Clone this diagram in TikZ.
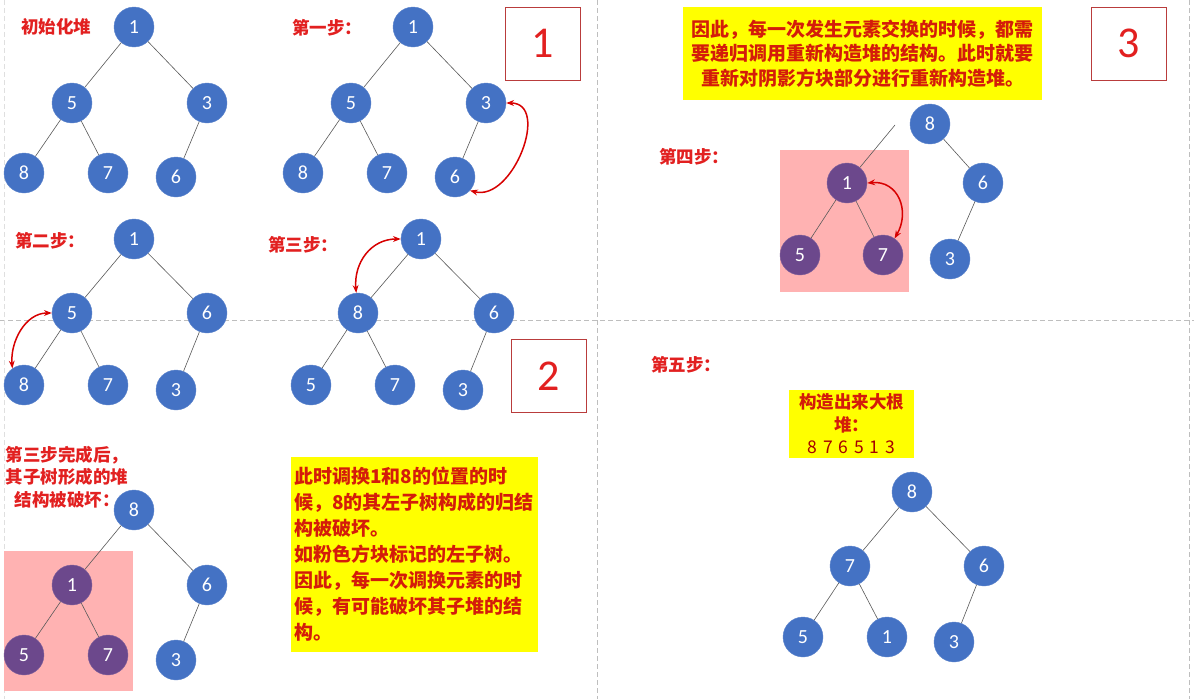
\documentclass[tikz,border=0pt]{standalone}
\usepackage{fontspec}
\setmainfont{Carlito}
\newfontfamily\cjk{Noto Sans CJK SC}
\usepackage{xcolor}
\usepackage{tikz}
\usetikzlibrary{arrows.meta, positioning}

\definecolor{heapblue}{RGB}{68,114,196}
\definecolor{brokenpurple}{RGB}{108,72,140}
\definecolor{shadepink}{RGB}{255,178,178}
\definecolor{labelred}{RGB}{226,32,32}
\definecolor{notered}{RGB}{212,28,10}
\definecolor{noteyellow}{RGB}{255,255,0}
\definecolor{boxred}{RGB}{185,60,60}
\definecolor{swapred}{RGB}{215,0,0}
\definecolor{sepgray}{RGB}{190,190,190}

\begin{document}
\begin{tikzpicture}[
    x=1pt, y=-1pt,
    heapnode/.style={circle, fill=heapblue, draw=heapblue!85!white, minimum size=40pt, inner sep=0pt, text=white, font=\fontsize{20}{20}\selectfont},
    brokennode/.style={heapnode, fill=brokenpurple, draw=brokenpurple!85!white},
    treeline/.style={draw=black!65, line width=0.6pt},
    swaparrow/.style={{Stealth[scale=0.8]}-{Stealth[scale=0.8]}, line width=1.5pt, swapred},
    steplabel/.style={anchor=west, inner sep=0pt, text=labelred, font=\cjk\bfseries\fontsize{17.5}{17.5}\selectfont},
    notebox/.style={fill=noteyellow, text=notered, inner sep=3pt, font=\cjk\bfseries\fontsize{19}{26}\selectfont},
    numberbox/.style={draw=boxred, fill=white, line width=0.8pt, minimum width=75pt, minimum height=73pt, text=labelred, font=\fontsize{44}{44}\selectfont},
    sepline/.style={draw=sepgray, line width=0.8pt, dash pattern=on 5pt off 3pt}
]
\useasboundingbox[fill=white] (0,0) rectangle (1194,699);

% === Separators ===
\draw[sepline] (0,320) -- (1194,320);
\draw[sepline] (597,0) -- (597,699);
\draw[sepline, draw=sepgray!50] (4,0) -- (4,699);
\draw[sepline] (1189,0) -- (1189,699);

% === Shaded subtrees ===
\fill[shadepink] (4,551) rectangle (133,691);
\fill[shadepink] (780,150) rectangle (909,292);

% === Initial heap ===
\node[steplabel] (lblinit) at (21,27) {初始化堆};
\node[heapnode] (a1) at (134,27) {1};
\node[heapnode] (a5) at (72,103) {5};
\node[heapnode] (a3) at (207,103) {3};
\node[heapnode] (a8) at (24,173) {8};
\node[heapnode] (a7) at (108,173) {7};
\node[heapnode] (a6) at (176,177) {6};
\draw[treeline] (a1) -- (a5);
\draw[treeline] (a1) -- (a3);
\draw[treeline] (a5) -- (a8);
\draw[treeline] (a5) -- (a7);
\draw[treeline] (a3) -- (a6);

% === Step 1 ===
\node[steplabel] (lblone) at (292,28) {第一步：};
\node[heapnode] (b1) at (413,27) {1};
\node[heapnode] (b5) at (351,103) {5};
\node[heapnode] (b3) at (486,103) {3};
\node[heapnode] (b8) at (303,173) {8};
\node[heapnode] (b7) at (387,173) {7};
\node[heapnode] (b6) at (455,177) {6};
\draw[treeline] (b1) -- (b5);
\draw[treeline] (b1) -- (b3);
\draw[treeline] (b5) -- (b8);
\draw[treeline] (b5) -- (b7);
\draw[treeline] (b3) -- (b6);
\draw[swaparrow] (b3.east) to[out=0, in=-15, looseness=1.2] (b6.-42);
\node[numberbox] (boxone) at (542.5,43.5) {1};

% === Step 2 ===
\node[steplabel] (lbltwo) at (15,241) {第二步：};
\node[heapnode] (c1) at (134,239) {1};
\node[heapnode] (c5) at (72,313) {5};
\node[heapnode] (c6) at (207,313) {6};
\node[heapnode] (c8) at (24,385) {8};
\node[heapnode] (c7) at (108,385) {7};
\node[heapnode] (c3) at (176,390) {3};
\draw[treeline] (c1) -- (c5);
\draw[treeline] (c1) -- (c6);
\draw[treeline] (c5) -- (c8);
\draw[treeline] (c5) -- (c7);
\draw[treeline] (c6) -- (c3);
\draw[swaparrow] (c5.west) to[out=180, in=95, looseness=1] (c8.125);

% === Step 3 ===
\node[steplabel] (lblthree) at (268,245) {第三步：};
\node[heapnode] (d1) at (421,239) {1};
\node[heapnode] (d8) at (358,313) {8};
\node[heapnode] (d6) at (494,313) {6};
\node[heapnode] (d5) at (311,385) {5};
\node[heapnode] (d7) at (395,385) {7};
\node[heapnode] (d3) at (463,390) {3};
\draw[treeline] (d1) -- (d8);
\draw[treeline] (d1) -- (d6);
\draw[treeline] (d8) -- (d5);
\draw[treeline] (d8) -- (d7);
\draw[treeline] (d6) -- (d3);
\draw[swaparrow] (d8.95) to[out=95, in=180, looseness=1.1] (d1.west);
\node[numberbox] (boxtwo) at (548.5,376) {2};

% === After step 3: broken subtree ===
\node[align=center, inner sep=0pt, text=labelred, font=\cjk\bfseries\fontsize{17.5}{22.5}\selectfont] (lblbroken) at (67,477) {第三步完成后，\\其子树形成的堆\\结构被破坏：};
\node[heapnode] (e8) at (134,510) {8};
\node[brokennode] (e1) at (72,585) {1};
\node[heapnode] (e6) at (207,585) {6};
\node[brokennode] (e5) at (24,655) {5};
\node[brokennode] (e7) at (108,655) {7};
\node[heapnode] (e3) at (176,660) {3};
\draw[treeline] (e8) -- (e1);
\draw[treeline] (e8) -- (e6);
\draw[treeline] (e1) -- (e5);
\draw[treeline] (e1) -- (e7);
\draw[treeline] (e6) -- (e3);
\node[notebox, minimum width=247pt, minimum height=195pt, text width=241pt, align=left] (notebroken) at (414.5,554.5) {此时调换1和8的位置的时\\候，8的其左子树构成的归结\\构被破坏。\\如粉色方块标记的左子树。\\因此，每一次调换元素的时\\候，有可能破坏其子堆的结\\构。};

% === Step 4 ===
\node[notebox, minimum width=359pt, minimum height=93pt, align=center, font=\cjk\bfseries\fontsize{19}{24.5}\selectfont] (noterebuild) at (862.5,53.5) {因此，每一次发生元素交换的时候，都需\\要递归调用重新构造堆的结构。此时就要\\重新对阴影方块部分进行重新构造堆。};
\node[numberbox] (boxthree) at (1129,43.5) {3};
\node[steplabel] (lblfour) at (659,157) {第四步：};
\node[heapnode] (f8) at (930,124) {8};
\node[brokennode] (f1) at (847,183) {1};
\node[heapnode] (f6) at (983,183) {6};
\node[brokennode] (f5) at (800,255) {5};
\node[brokennode] (f7) at (883,255) {7};
\node[heapnode] (f3) at (950,259) {3};
\coordinate (fcut) at (895,125);
\draw[treeline] (fcut) -- (f1);
\draw[treeline] (f8) -- (f6);
\draw[treeline] (f1) -- (f5);
\draw[treeline] (f1) -- (f7);
\draw[treeline] (f6) -- (f3);
\draw[swaparrow] (f1.east) to[out=5, in=60, looseness=1.3] (f7.55);

% === Step 5: final max heap ===
\node[steplabel] (lblfive) at (651,365) {第五步：};
\node[notebox, minimum width=125pt, minimum height=68pt, align=center, font=\cjk\bfseries\fontsize{17.5}{22.5}\selectfont] (noteresult) at (851.5,424) {构造出来大根\\堆：\\{\mdseries\color{red!65!black}8\,\,7\,\,6\,\,5\,\,1\,\,3}};
\node[heapnode] (g8) at (912,492) {8};
\node[heapnode] (g7) at (850,566) {7};
\node[heapnode] (g6) at (984,566) {6};
\node[heapnode] (g5) at (803,637) {5};
\node[heapnode] (g1) at (887,637) {1};
\node[heapnode] (g3) at (954,642) {3};
\draw[treeline] (g8) -- (g7);
\draw[treeline] (g8) -- (g6);
\draw[treeline] (g7) -- (g5);
\draw[treeline] (g7) -- (g1);
\draw[treeline] (g6) -- (g3);

\end{tikzpicture}
\end{document}
